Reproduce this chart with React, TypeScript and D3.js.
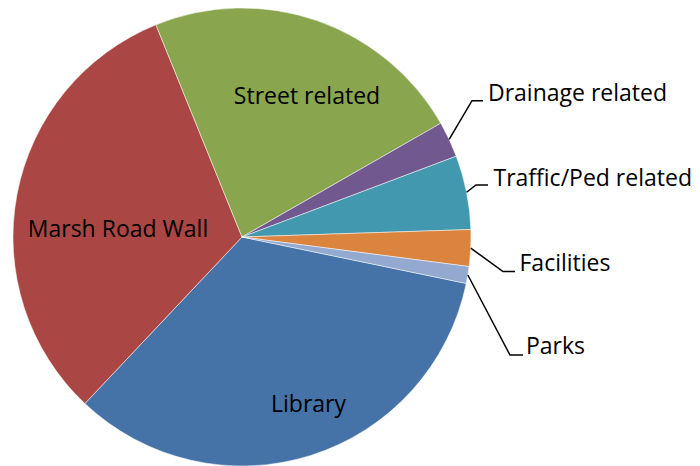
import React from "react";
import * as d3 from "d3";

// Data (share of total, %)
const categories = ["Library", "Marsh Road Wall", "Street related", "Drainage related", "Traffic/Ped related", "Facilities", "Parks"];
const values = [33.78, 31.83, 22.86, 2.53, 5.22, 2.58, 1.19];
const colors = ["#4572A7", "#AA4643", "#89A54E", "#71588F", "#4198AF", "#DB843D", "#93A9CF"];

// Layout
const W = 700;
const H = 466;
const CX = 242;
const CY = 237;
const R = 229;
const FIRST_SLICE_ANGLE = 101.7; // degrees clockwise from 12 o'clock

// label layout: inside labels (center x, baseline y), outside labels (elbow point, text start)
const insideLabels: Record<string, [number, number]> = {
  "Library": [308.5, 411.5],
  "Marsh Road Wall": [118, 237.3],
  "Street related": [307, 104.3],
};
const outsideLabels: Record<string, { elbow: [number, number]; end: number; tx: number; ty: number }> = {
  "Drainage related": { elbow: [472, 100.7], end: 483, tx: 488, ty: 101 },
  "Traffic/Ped related": { elbow: [476, 185], end: 488, tx: 493.5, ty: 186 },
  "Facilities": { elbow: [503, 271.5], end: 515, tx: 519.5, ty: 270.7 },
  "Parks": { elbow: [510, 355], end: 523, tx: 526, ty: 354 },
};

const FONT = "'Open Sans', sans-serif";
const FONT_SIZE = 23;

export default function App() {
  const start = (FIRST_SLICE_ANGLE * Math.PI) / 180;
  const pie = d3
    .pie<number>()
    .sort(null)
    .value((d) => d)
    .startAngle(start)
    .endAngle(start + 2 * Math.PI);
  const arcs = pie(values);
  const arc = d3.arc<d3.PieArcDatum<number>>().innerRadius(0).outerRadius(R);

  return (
    <svg
      width={W}
      height={H}
      style={{ position: "absolute", left: 0, top: 0, background: "#fff" }}
      fontFamily={FONT}
    >
      <g transform={`translate(${CX},${CY})`}>
        {arcs.map((a, i) => (
          <path key={categories[i]} d={arc(a) || ""} fill={colors[i]} stroke="#fff" strokeWidth={0.5} />
        ))}
      </g>
      {arcs.map((a, i) => {
        const name = categories[i];
        const out = outsideLabels[name];
        if (!out) return null;
        const mid = (a.startAngle + a.endAngle) / 2;
        const sx = CX + R * Math.sin(mid);
        const sy = CY - R * Math.cos(mid);
        return (
          <g key={name + "-lbl"}>
            <polyline
              points={`${sx},${sy} ${out.elbow[0]},${out.elbow[1]} ${out.end},${out.elbow[1]}`}
              fill="none"
              stroke="#000"
              strokeWidth={1.5}
            />
            <text x={out.tx} y={out.ty} fontSize={FONT_SIZE} fill="#000">
              {name}
            </text>
          </g>
        );
      })}
      {categories.map((name) => {
        const p = insideLabels[name];
        if (!p) return null;
        return (
          <text key={name + "-in"} x={p[0]} y={p[1]} fontSize={FONT_SIZE} textAnchor="middle" fill="#000">
            {name}
          </text>
        );
      })}
    </svg>
  );
}
